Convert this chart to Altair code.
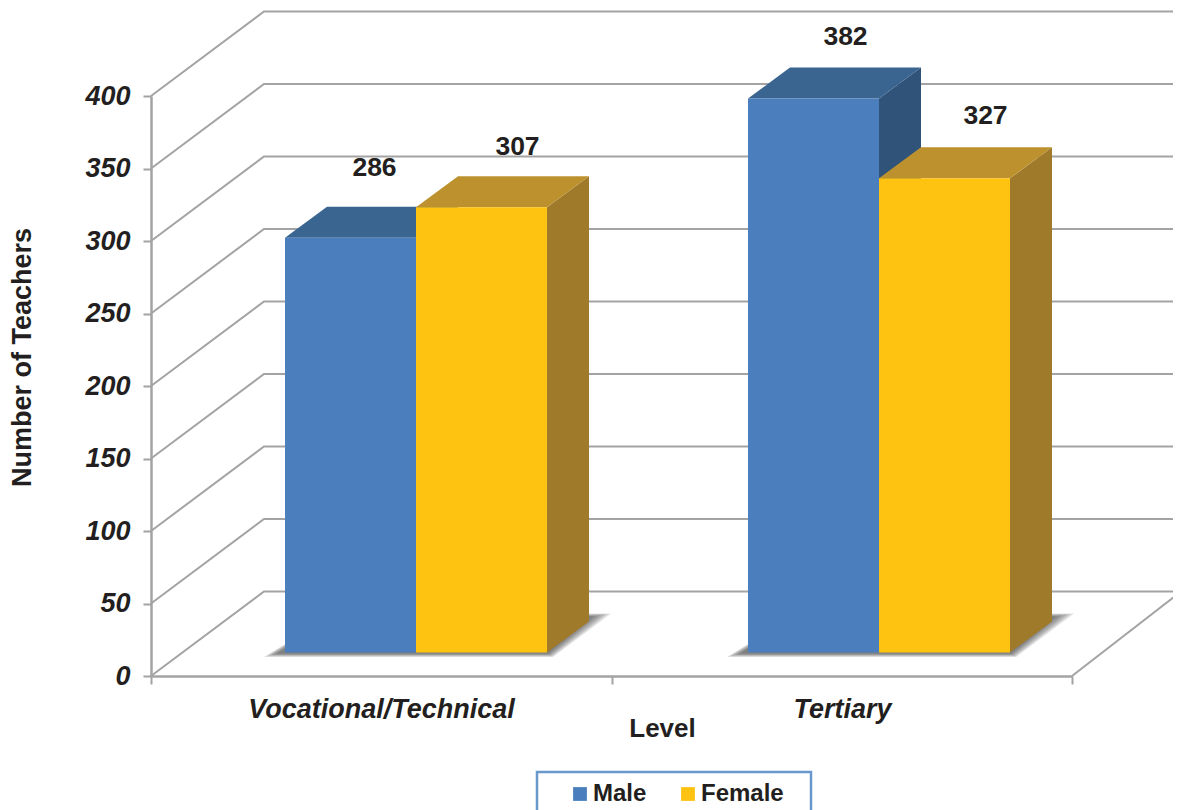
import altair as alt
import pandas as pd

# ---- values ----
categories = ["Vocational/Technical", "Tertiary"]
series_names = ["Male", "Female"]
male_values = [286, 382]
female_values = [307, 327]
value_ticks = [0, 50, 100, 150, 200, 250, 300, 350, 400]

# ---- layout (pixels inside the plot area, converted through the scales) ----
PW, PH = 921, 580
XMAX, YMAX = 2, 400
UX, UY = PW / XMAX, PH / YMAX          # px per data unit
WALL_DX, WALL_DY = 113 / UX, 84.5 / UY  # chart depth
FAR_RIGHT = (1181 - 151) / UX           # gridlines run to the page edge
BAR_W = 131 / UX
BAR_DX, BAR_DY = 42 / UX, 31 / UY       # bar depth
BAR_BASE = 23.5 / UY                    # bars stand on the floor
START = 134 / UX
STEP = 463 / UX
LABEL_NUDGE = {("Male", 0): (24, 70), ("Female", 0): (36, 60),
               ("Male", 1): (32, 62), ("Female", 1): (41, 62)}

FONT = "Liberation Sans"
INK = "#231f20"
GRID = "#a3a3a3"
FRONT = {"Male": "#4a7ebc", "Female": "#fec211"}
TOP = {"Male": "#3a6591", "Female": "#bd922e"}
SIDE = {"Male": "#2f5379", "Female": "#9f7a2b"}
SHADOW_STEPS = 6

xs = alt.Scale(domain=[0, XMAX], nice=False, zero=False)
ys = alt.Scale(domain=[0, YMAX], nice=False, zero=False)


def X(field, axis=None):
    return alt.X(f"{field}:Q", scale=xs, axis=axis)


def Y(field, axis=None):
    return alt.Y(f"{field}:Q", scale=ys, axis=axis)


# ---- wall / floor lines ----
wall_rows = []
for v in value_ticks:
    wall_rows += [
        {"id": v, "o": 0, "x": 0, "y": v},
        {"id": v, "o": 1, "x": WALL_DX, "y": v + WALL_DY},
        {"id": v, "o": 2, "x": FAR_RIGHT, "y": v + WALL_DY},
    ]
wall_rows += [
    {"id": -1, "o": 0, "x": XMAX, "y": 0},
    {"id": -1, "o": 1, "x": FAR_RIGHT, "y": WALL_DY},
]
walls = (
    alt.Chart(pd.DataFrame(wall_rows))
    .mark_line(color=GRID, strokeWidth=2, clip=False)
    .encode(
        x=X(
            "x",
            alt.Axis(
                orient="bottom",
                values=[0, 1, 2], labels=False, grid=False, tickSize=8,
                tickWidth=2, tickColor=GRID, domainColor=GRID, domainWidth=2.5,
                title="Level", titleFont=FONT, titleFontSize=26,
                titleFontWeight="bold", titleColor=INK,
                titleX=511, titleY=39,
            ),
        ),
        y=Y(
            "y",
            alt.Axis(
                orient="left",
                values=value_ticks, grid=False, tickSize=8, tickWidth=2,
                tickColor=GRID, domainColor=GRID, domainWidth=2.5,
                labelFont=FONT, labelFontSize=27, labelFontWeight="bold",
                labelFontStyle="italic", labelColor=INK, labelPadding=13,
                title="Number of Teachers", titleFont=FONT, titleFontSize=27,
                titleFontWeight="bold", titleColor=INK,
                titleX=-115, titleY=261,
            ),
        ),
        detail="id:N",
        order="o:Q",
    )
)

# x-axis category labels, centred between the ticks
cat_positions = [(381 - 151) / UX, (842 - 151) / UX]
label_expr = f"datum.value < 1 ? '{categories[0]}' : '{categories[1]}'"
cat_axis_layer = (
    alt.Chart(pd.DataFrame({"x": cat_positions, "y": [0, 0]}))
    .mark_point(opacity=0)
    .encode(
        x=X(
            "x",
            alt.Axis(
                orient="bottom",
                values=cat_positions, labelExpr=label_expr, tickSize=0, domain=False,
                grid=False, title=None, labelFont=FONT, labelFontSize=27,
                labelFontWeight="bold", labelFontStyle="italic", labelColor=INK,
                labelPadding=20, labelOverlap=False, labelFlush=False, labelLimit=400,
            ),
        ),
        y=Y("y"),
    )
)

# ---- soft floor shadows under each bar group ----
shadow_rows = []
for i in range(len(categories)):
    left = START + i * STEP
    right = left + 2 * BAR_W
    for k in range(SHADOW_STEPS):
        t = 1 - k / (SHADOW_STEPS - 1)   # outermost first
        shadow_rows += [
            {"id": f"{i}-{k}", "layer": k,
             "y": BAR_BASE - (1 + 3.5 * t) / UY,
             "xl": left - (8 + 13 * t) / UX, "xr": right + (1 + 5 * t) / UX},
            {"id": f"{i}-{k}", "layer": k,
             "y": BAR_BASE + (36 + 3 * t) / UY,
             "xl": left + 50 / UX, "xr": right + (46 + 18 * t) / UX},
        ]
shadow_df = pd.DataFrame(shadow_rows)
shadows = [
    alt.Chart(shadow_df[shadow_df.layer == k])
    .mark_area(orient="horizontal", color="#404040", opacity=0.16, clip=False)
    .encode(x=X("xl"), x2="xr:Q", y=Y("y"), detail="id:N")
    for k in range(SHADOW_STEPS)
]

# ---- 3-D bars ----
bar_layers = []
for s_idx, (name, vals) in enumerate(zip(series_names, [male_values, female_values])):
    side_rows, top_rows, front_rows = [], [], []
    for i, v in enumerate(vals):
        left = START + i * STEP + s_idx * BAR_W
        right = left + BAR_W
        top = BAR_BASE + v
        side_rows += [
            {"id": i, "x": right, "y": BAR_BASE, "y2": top},
            {"id": i, "x": right + BAR_DX, "y": BAR_BASE + BAR_DY, "y2": top + BAR_DY},
        ]
        top_rows += [
            {"id": i, "y": top, "x": left, "x2": right},
            {"id": i, "y": top + BAR_DY, "x": left + BAR_DX, "x2": right + BAR_DX},
        ]
        front_rows.append(
            {"series": name, "x": left, "x2": right, "y": BAR_BASE, "y2": top}
        )
    bar_layers.append(
        alt.Chart(pd.DataFrame(side_rows))
        .mark_area(color=SIDE[name], clip=False)
        .encode(x=X("x"), y=Y("y"), y2="y2:Q", detail="id:N")
    )
    bar_layers.append(
        alt.Chart(pd.DataFrame(top_rows))
        .mark_area(orient="horizontal", color=TOP[name], clip=False)
        .encode(x=X("x"), x2="x2:Q", y=Y("y"), detail="id:N")
    )
    bar_layers.append(
        alt.Chart(pd.DataFrame(front_rows))
        .mark_rect(clip=False)
        .encode(
            x=X("x"),
            x2="x2:Q",
            y=Y("y"),
            y2="y2:Q",
            color=alt.Color(
                "series:N",
                scale=alt.Scale(domain=series_names,
                                range=[FRONT[n] for n in series_names]),
                title=None,
                legend=alt.Legend(
                    orient="none", legendX=417, legendY=686, direction="horizontal",
                    columns=2, columnPadding=29, symbolType="square", symbolSize=190,
                    symbolStrokeWidth=0, labelFont=FONT, labelFontSize=24,
                    labelFontWeight="bold", labelColor=INK, labelOffset=1,
                    padding=0,
                ),
            ),
        )
    )

# ---- data labels ----
label_rows = []
for s_idx, (name, vals) in enumerate(zip(series_names, [male_values, female_values])):
    for i, v in enumerate(vals):
        nx, ny = LABEL_NUDGE[(name, i)]
        cx = START + i * STEP + (s_idx + 0.5) * BAR_W
        label_rows.append(
            {"x": cx + nx / UX, "y": BAR_BASE + v + ny / UY, "t": str(v)}
        )
labels = (
    alt.Chart(pd.DataFrame(label_rows))
    .mark_text(font=FONT, fontSize=26.5, fontWeight="bold", color=INK, clip=False)
    .encode(x=X("x"), y=Y("y"), text="t:N")
)

# ---- legend frame ----
frame = (
    alt.Chart(pd.DataFrame({"a": [0]}))
    .mark_rect(fill="white", stroke="#6a97cc", strokeWidth=2.5, clip=False)
    .encode(
        x=alt.value(386), x2=alt.value(660),
        y=alt.value(676), y2=alt.value(760),
    )
)

chart = (
    alt.layer(walls, cat_axis_layer, *shadows, *bar_layers, labels, frame)
    .resolve_axis(x="independent", y="independent")
    .properties(
        width=PW,
        height=PH,
        autosize=alt.AutoSizeParams(type="none"),
        padding={"left": 143, "top": 88, "right": 101, "bottom": 134},
        background="white",
    )
    .configure_view(stroke=None)
)

chart.save("out.html", embed_options={"renderer": "svg", "actions": False})
